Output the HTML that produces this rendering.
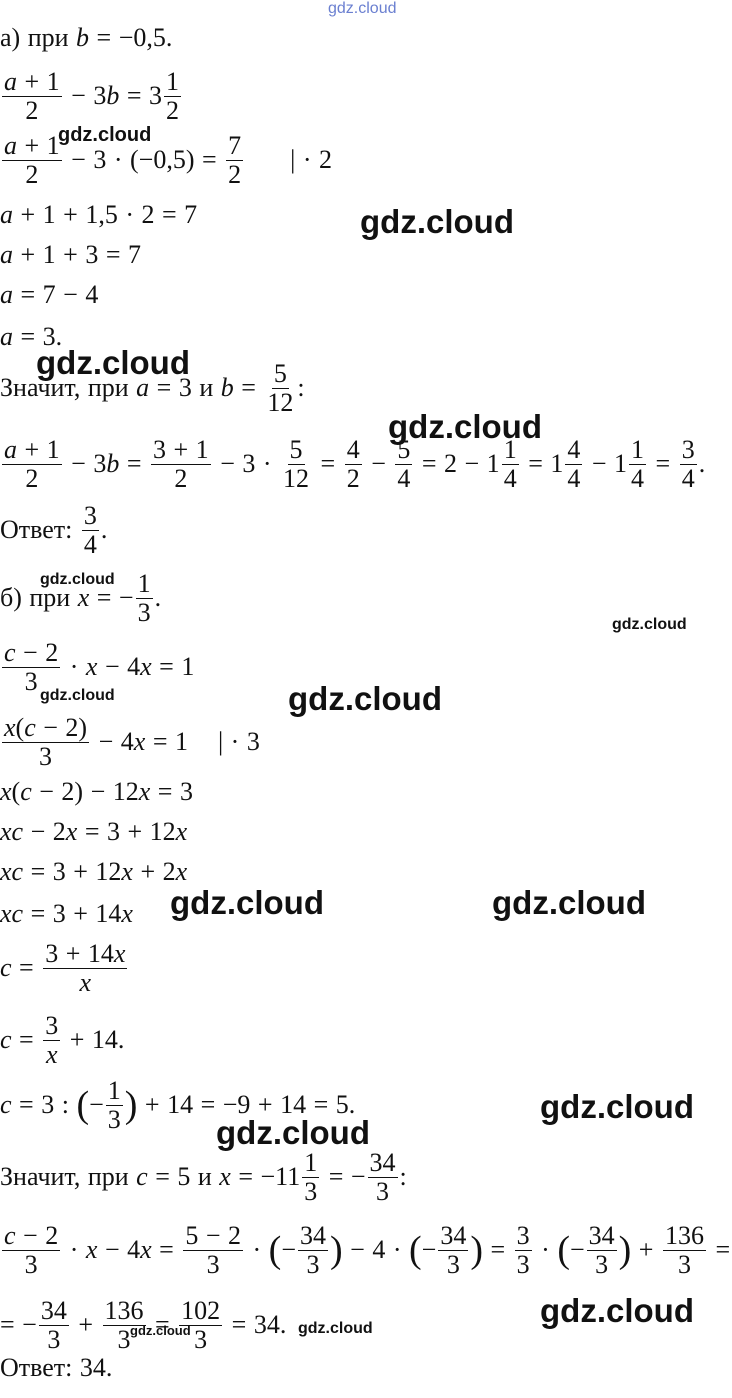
<!DOCTYPE html>
<html><head><meta charset="utf-8"><style>
html,body{margin:0;padding:0;background:#fff;}
body{width:732px;height:1378px;position:relative;overflow:hidden;font-family:"Liberation Serif",serif;font-size:26px;color:#111;}
.r{position:absolute;left:0;height:60px;display:flex;align-items:center;white-space:pre;word-spacing:1px;}
.f{display:inline-flex;flex-direction:column;align-items:center;vertical-align:middle;margin:0 2px;}
.f>span{display:block;line-height:28px;padding:0 2px;}
.f>span:first-child{border-bottom:1.5px solid #111;}
i{font-style:italic;}
.w{position:absolute;font-family:"Liberation Sans",sans-serif;font-weight:bold;color:#111;white-space:nowrap;}
.b{font-size:33px;}
.s{font-size:16px;}
.big{font-size:38px;font-weight:normal;line-height:1;}
</style></head><body>
<div class="w" style="left:328px;top:0;font-size:16px;font-weight:normal;color:#6a7fd0;">gdz.cloud</div>

<div class="r" style="top:8px">а) при <i>b</i> = −0,5.</div>
<div class="r" style="top:66px"><span class="f"><span><i>a</i> + 1</span><span>2</span></span> − 3<i>b</i> = 3<span class="f"><span>1</span><span>2</span></span></div>
<div class="r" style="top:130px"><span class="f"><span><i>a</i> + 1</span><span>2</span></span> − 3 · (−0,5) = <span class="f"><span>7</span><span>2</span></span>      | · 2</div>
<div class="r" style="top:185px"><i>a</i> + 1 + 1,5 · 2 = 7</div>
<div class="r" style="top:225px"><i>a</i> + 1 + 3 = 7</div>
<div class="r" style="top:265px"><i>a</i> = 7 − 4</div>
<div class="r" style="top:307px"><i>a</i> = 3.</div>
<div class="r" style="top:358px">Значит, при <i>a</i> = 3 и <i>b</i> = <span class="f"><span>5</span><span>12</span></span>:</div>
<div class="r" style="top:434px"><span class="f"><span><i>a</i> + 1</span><span>2</span></span> − 3<i>b</i> = <span class="f"><span>3 + 1</span><span>2</span></span> − 3 · <span class="f"><span>5</span><span>12</span></span> = <span class="f"><span>4</span><span>2</span></span> − <span class="f"><span>5</span><span>4</span></span> = 2 − 1<span class="f"><span>1</span><span>4</span></span> = 1<span class="f"><span>4</span><span>4</span></span> − 1<span class="f"><span>1</span><span>4</span></span> = <span class="f"><span>3</span><span>4</span></span>.</div>
<div class="r" style="top:500px">Ответ: <span class="f"><span>3</span><span>4</span></span>.</div>
<div class="r" style="top:568px">б) при <i>x</i> = −<span class="f"><span>1</span><span>3</span></span>.</div>
<div class="r" style="top:637px"><span class="f"><span><i>c</i> − 2</span><span>3</span></span> · <i>x</i> − 4<i>x</i> = 1</div>
<div class="r" style="top:712px"><span class="f"><span><i>x</i>(<i>c</i> − 2)</span><span>3</span></span> − 4<i>x</i> = 1    | · 3</div>
<div class="r" style="top:762px"><i>x</i>(<i>c</i> − 2) − 12<i>x</i> = 3</div>
<div class="r" style="top:802px"><i>xc</i> − 2<i>x</i> = 3 + 12<i>x</i></div>
<div class="r" style="top:842px"><i>xc</i> = 3 + 12<i>x</i> + 2<i>x</i></div>
<div class="r" style="top:884px"><i>xc</i> = 3 + 14<i>x</i></div>
<div class="r" style="top:938px"><i>c</i> = <span class="f"><span>3 + 14<i>x</i></span><span><i>x</i></span></span></div>
<div class="r" style="top:1010px"><i>c</i> = <span class="f"><span>3</span><span><i>x</i></span></span> + 14.</div>
<div class="r" style="top:1075px"><i>c</i> = 3 : <span class="big">(</span>−<span class="f"><span>1</span><span>3</span></span><span class="big">)</span> + 14 = −9 + 14 = 5.</div>
<div class="r" style="top:1147px">Значит, при <i>c</i> = 5 и <i>x</i> = −11<span class="f"><span>1</span><span>3</span></span> = −<span class="f"><span>34</span><span>3</span></span>:</div>
<div class="r" style="top:1220px"><span class="f"><span><i>c</i> − 2</span><span>3</span></span> · <i>x</i> − 4<i>x</i> = <span class="f"><span>5 − 2</span><span>3</span></span> · <span class="big">(</span>−<span class="f"><span>34</span><span>3</span></span><span class="big">)</span> − 4 · <span class="big">(</span>−<span class="f"><span>34</span><span>3</span></span><span class="big">)</span> = <span class="f"><span>3</span><span>3</span></span> · <span class="big">(</span>−<span class="f"><span>34</span><span>3</span></span><span class="big">)</span> + <span class="f"><span>136</span><span>3</span></span> =</div>
<div class="r" style="top:1295px">= −<span class="f"><span>34</span><span>3</span></span> + <span class="f"><span>136</span><span>3</span></span> = <span class="f"><span>102</span><span>3</span></span> = 34.</div>
<div class="r" style="top:1338px">Ответ: 34.</div>

<div class="w b" style="left:360px;top:203px">gdz.cloud</div>
<div class="w b" style="left:36px;top:344px">gdz.cloud</div>
<div class="w b" style="left:388px;top:408px">gdz.cloud</div>
<div class="w b" style="left:288px;top:680px">gdz.cloud</div>
<div class="w b" style="left:170px;top:884px">gdz.cloud</div>
<div class="w b" style="left:492px;top:884px">gdz.cloud</div>
<div class="w b" style="left:540px;top:1088px">gdz.cloud</div>
<div class="w b" style="left:216px;top:1114px">gdz.cloud</div>
<div class="w b" style="left:540px;top:1292px">gdz.cloud</div>
<div class="w" style="left:58px;top:124px;font-size:20px">gdz.cloud</div>
<div class="w s" style="left:40px;top:571px">gdz.cloud</div>
<div class="w s" style="left:612px;top:616px">gdz.cloud</div>
<div class="w s" style="left:40px;top:687px">gdz.cloud</div>
<div class="w" style="left:130px;top:1323px;font-size:13px">gdz.cloud</div>
<div class="w s" style="left:298px;top:1320px">gdz.cloud</div>
</body></html>
